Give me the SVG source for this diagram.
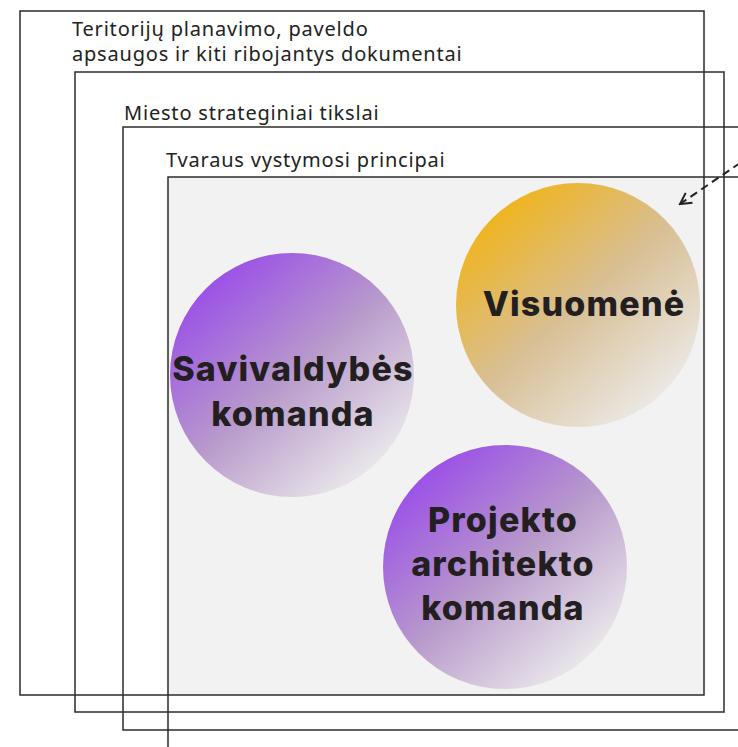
<svg xmlns="http://www.w3.org/2000/svg" width="738" height="747" viewBox="0 0 738 747">
<style>
.frame{fill:none;stroke:#2b2b2b;stroke-width:1.5}
.lbl{font-family:"Noto Sans","Liberation Sans",sans-serif;font-size:20px;letter-spacing:0.8px;fill:#222}
.big{font-family:Inter,"Liberation Sans",sans-serif;font-weight:800;font-size:34px;letter-spacing:1.2px;fill:#231f20;text-anchor:middle}
</style>
<defs>
<linearGradient id="gp" x1="0.15" y1="0.1" x2="0.85" y2="0.9">
<stop offset="0" stop-color="#9a4ee8"/>
<stop offset="0.5" stop-color="#b89acb"/>
<stop offset="1" stop-color="#ecebec"/>
</linearGradient>
<linearGradient id="go" x1="0.15" y1="0.1" x2="0.85" y2="0.9">
<stop offset="0" stop-color="#f0b41a"/>
<stop offset="0.5" stop-color="#d8bf95"/>
<stop offset="1" stop-color="#eceae8"/>
</linearGradient>
<marker id="ah" viewBox="0 0 14 14" refX="12" refY="7" markerWidth="14" markerHeight="14" markerUnits="userSpaceOnUse" orient="auto">
<path d="M1,1 L12,7 L1,13" fill="none" stroke="#222" stroke-width="2"/>
</marker>
</defs>
<rect x="0" y="0" width="738" height="747" fill="#fff"/>
<g id="frames">
<rect x="168" y="177" width="536" height="518" fill="#f2f2f2"/>
<rect id="frame1" class="frame" x="20" y="11" width="684" height="684"/>
<rect id="frame2" class="frame" x="75" y="72" width="649" height="640"/>
<rect id="frame3" class="frame" x="123" y="127" width="640" height="603"/>
<rect id="frame4" class="frame" x="168" y="177" width="600" height="600"/>
</g>
<g id="labels">
<text class="lbl" x="72" y="36">Teritorijų planavimo, paveldo</text>
<text class="lbl" x="72" y="61">apsaugos ir kiti ribojantys dokumentai</text>
<text class="lbl" x="124" y="120">Miesto strateginiai tikslai</text>
<text class="lbl" x="166" y="167">Tvaraus vystymosi principai</text>
</g>
<g id="connectors">
<line x1="740" y1="163" x2="680" y2="204" stroke="#222" stroke-width="2" stroke-dasharray="8,5" marker-end="url(#ah)"/>
</g>
<g id="node-savivaldybes">
<circle cx="292" cy="375" r="122" fill="url(#gp)"/>
<text class="big" x="293" y="381">Savivaldybės</text>
<text class="big" x="293" y="426">komanda</text>
</g>
<g id="node-visuomene">
<circle cx="578" cy="305" r="122" fill="url(#go)"/>
<text class="big" x="584" y="316">Visuomenė</text>
</g>
<g id="node-projekto">
<circle cx="505" cy="567" r="122" fill="url(#gp)"/>
<text class="big" x="503" y="532">Projekto</text>
<text class="big" x="503" y="576">architekto</text>
<text class="big" x="503" y="620">komanda</text>
</g>
</svg>
